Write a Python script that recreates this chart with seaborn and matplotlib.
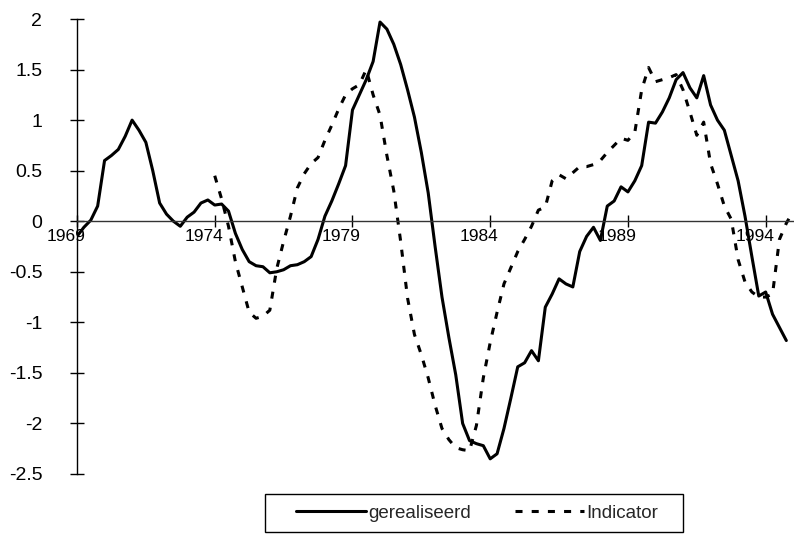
import numpy as np
import pandas as pd
import matplotlib
matplotlib.use("Agg")
import matplotlib.pyplot as plt
import matplotlib.transforms as mtransforms
from matplotlib.patches import Rectangle
import seaborn as sns

# ---- data (quarterly) ----
real_start = 1969.0
gerealiseerd = [
    -0.15, -0.06, 0.01, 0.15,      # 1969
    0.60, 0.65, 0.71, 0.84,        # 1970
    1.00, 0.90, 0.78, 0.50,        # 1971
    0.18, 0.07, 0.00, -0.05,       # 1972
    0.04, 0.09, 0.18, 0.21,        # 1973
    0.16, 0.17, 0.10, -0.12,       # 1974
    -0.28, -0.40, -0.44, -0.45,    # 1975
    -0.51, -0.50, -0.48, -0.44,    # 1976
    -0.43, -0.40, -0.35, -0.18,    # 1977
    0.05, 0.20, 0.37, 0.55,        # 1978
    1.10, 1.25, 1.40, 1.58,        # 1979
    1.97, 1.90, 1.75, 1.55,        # 1980
    1.30, 1.03, 0.68, 0.28,        # 1981
    -0.25, -0.75, -1.15, -1.52,    # 1982
    -2.00, -2.17, -2.20, -2.22,    # 1983
    -2.35, -2.30, -2.05, -1.75,    # 1984
    -1.44, -1.40, -1.28, -1.38,    # 1985
    -0.85, -0.72, -0.57, -0.62,    # 1986
    -0.65, -0.30, -0.15, -0.06,    # 1987
    -0.19, 0.15, 0.20, 0.34,       # 1988
    0.29, 0.40, 0.55, 0.98,        # 1989
    0.97, 1.08, 1.22, 1.40,        # 1990
    1.47, 1.32, 1.22, 1.44,        # 1991
    1.15, 1.00, 0.90, 0.65,        # 1992
    0.40, 0.05, -0.35, -0.74,      # 1993
    -0.70, -0.92, -1.05, -1.18,    # 1994
]

ind_start = 1974.0
indicator = [
    0.45, 0.22, -0.05, -0.40,      # 1974
    -0.65, -0.90, -0.96, -0.94,    # 1975
    -0.88, -0.47, -0.20, 0.05,     # 1976
    0.33, 0.47, 0.57, 0.63,        # 1977
    0.80, 0.95, 1.11, 1.25,        # 1978
    1.31, 1.35, 1.50, 1.25,        # 1979
    1.05, 0.65, 0.30, -0.20,       # 1980
    -0.76, -1.12, -1.32, -1.55,    # 1981
    -1.82, -2.05, -2.16, -2.24,    # 1982
    -2.26, -2.27, -2.02, -1.55,    # 1983
    -1.20, -0.90, -0.62, -0.46,    # 1984
    -0.30, -0.18, -0.05, 0.11,     # 1985
    0.14, 0.40, 0.46, 0.42,        # 1986
    0.48, 0.54, 0.54, 0.56,        # 1987
    0.60, 0.68, 0.75, 0.82,        # 1988
    0.80, 0.88, 1.30, 1.52,        # 1989
    1.38, 1.40, 1.42, 1.45,        # 1990
    1.30, 1.08, 0.85, 0.98,        # 1991
    0.57, 0.37, 0.15, 0.02,        # 1992
    -0.38, -0.60, -0.70, -0.75,    # 1993
    -0.75, -0.72, -0.18, -0.02,    # 1994
    0.10,                          # 1995
]

x_ticks = [1969, 1974, 1979, 1984, 1989, 1994]
y_ticks = [-2.5, -2, -1.5, -1, -0.5, 0, 0.5, 1, 1.5, 2]
y_ticklabels = ["-2.5", "-2", "-1.5", "-1", "-0.5", "0", "0.5", "1", "1.5", "2"]
labels = ["gerealiseerd", "Indicator"]

t_real = real_start + np.arange(len(gerealiseerd)) * 0.25
t_ind = ind_start + np.arange(len(indicator)) * 0.25

# ---- style ----
sns.set_style("white")
plt.rcParams["font.family"] = ["Liberation Sans", "DejaVu Sans"]
plt.rcParams["axes.unicode_minus"] = False

fig = plt.figure(figsize=(7.94, 5.34), dpi=100)
ax = fig.add_axes([77 / 794, 60 / 534, 1 - 77 / 794 - 0.001, (474 - 19) / 534])

sns.lineplot(x=t_real, y=gerealiseerd, ax=ax, color="black", linewidth=2.2,
             label=labels[0], errorbar=None, sort=False)
sns.lineplot(x=t_ind, y=indicator, ax=ax, color="black", linewidth=2.2,
             label=labels[1], errorbar=None, sort=False)
ax.lines[1].set_dashes([2.3, 3.0])

ax.set_xlim(1969, 1995)
ax.set_ylim(-2.5, 2)

for s in ["top", "right"]:
    ax.spines[s].set_visible(False)
ax.spines["bottom"].set_position(("data", 0))
ax.spines["bottom"].set_color("#333333")
ax.spines["bottom"].set_linewidth(1.0)
ax.spines["left"].set_color("black")
ax.spines["left"].set_linewidth(1.0)

ax.set_xticks(x_ticks)
ax.set_xticklabels([str(v) for v in x_ticks], fontsize=12.5)
ax.set_yticks(y_ticks)
ax.set_yticklabels(y_ticklabels, fontsize=14)
ax.tick_params(axis="y", left=True, direction="inout", length=10, width=1, pad=20, colors="black")
ax.tick_params(axis="x", bottom=True, direction="inout", length=8.6, width=1, pad=1, colors="black")

offset = mtransforms.ScaledTranslation(-11 / 100, 0, fig.dpi_scale_trans)
for lab in ax.get_xticklabels():
    lab.set_transform(lab.get_transform() + offset)

ax.set_xlabel("")
ax.set_ylabel("")
ax.grid(False)

handles, lbls = ax.get_legend_handles_labels()
ax.get_legend().remove()
leg = fig.legend(handles, lbls, loc="center", bbox_to_anchor=(477.5 / 794, 1 - 513 / 534),
                 ncol=2, fontsize=13.5, frameon=False, handlelength=3.7,
                 handletextpad=0.15, columnspacing=2.3, borderpad=0.2)
fig.patches.append(Rectangle((265 / 794, 1 - 532 / 534), 418 / 794, 38 / 534,
                             transform=fig.transFigure, fill=False, ec="black", lw=1.0))

fig.savefig("out.png", dpi=100)
